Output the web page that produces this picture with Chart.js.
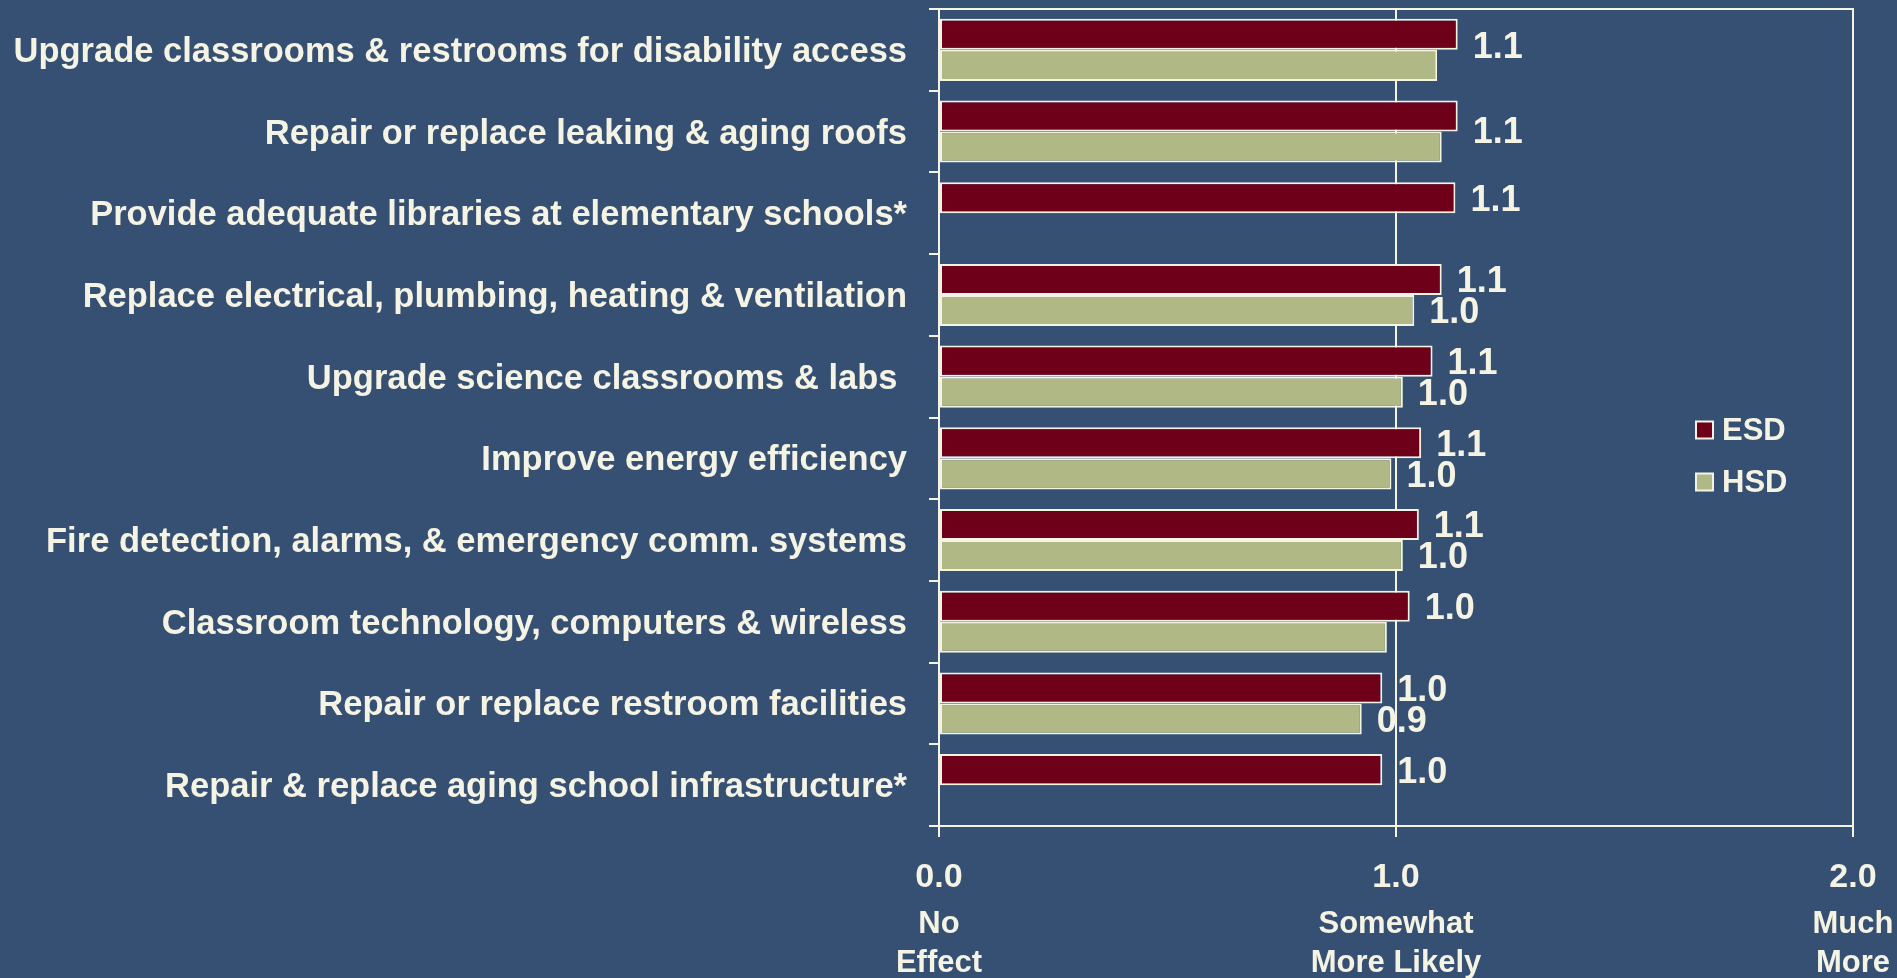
<!DOCTYPE html>
<html>
<head>
<meta charset="utf-8">
<title>Effect of projects on likelihood to vote yes: ESD vs HSD</title>
<script src="https://cdn.jsdelivr.net/npm/chart.js@4.4.1/dist/chart.umd.min.js"></script>
<style>
  html, body { margin: 0; padding: 0; background: #365074; }
  #wrap { position: relative; width: 1897px; height: 978px; }
</style>
</head>
<body>
<div id="wrap"><canvas id="chart"></canvas></div>
<script>
// Projects, listed top to bottom as on the slide.
const categories = [
  'Upgrade classrooms & restrooms for disability access',
  'Repair or replace leaking & aging roofs',
  'Provide adequate libraries at elementary schools*',
  'Replace electrical, plumbing, heating & ventilation',
  'Upgrade science classrooms & labs ',
  'Improve energy efficiency',
  'Fire detection, alarms, & emergency comm. systems',
  'Classroom technology, computers & wireless',
  'Repair or replace restroom facilities',
  'Repair & replace aging school infrastructure*'
];

const seriesNames = ['ESD', 'HSD'];

// Mean scores (null = not asked in that district).
const esdValues = [1.135, 1.135, 1.13, 1.10, 1.08, 1.055, 1.05, 1.03, 0.97, 0.97];
const hsdValues = [1.09, 1.10, null, 1.04, 1.015, 0.99, 1.015, 0.98, 0.925, null];

// Which bars carry a value label on the slide.
const esdLabelShown = [true, true, true, true, true, true, true, true, true, true];
const hsdLabelShown = [false, false, false, true, true, true, true, false, true, false];

const xTickLabels = ['0.0', '1.0', '2.0'];
const xDescriptors = [['No', 'Effect'], ['Somewhat', 'More Likely'], ['Much', 'More']];

const CREAM = '#F5F3E3';
const ESD_COLOR = '#6E001A';
const HSD_COLOR = '#B0B886';
const FONT = '"Liberation Sans", Arial, sans-serif';

// value labels just past the end of each bar
const barValueLabels = {
  id: 'barValueLabels',
  afterDatasetsDraw(chart) {
    const ctx = chart.ctx;
    ctx.save();
    ctx.font = 'bold 36px ' + FONT;
    ctx.fillStyle = CREAM;
    ctx.textAlign = 'left';
    ctx.textBaseline = 'middle';
    chart.data.datasets.forEach((ds, di) => {
      chart.getDatasetMeta(di).data.forEach((bar, i) => {
        const v = ds.data[i];
        if (v == null || !ds.labelShown[i]) return;
        const nudge = ds.labelNudge ? (ds.labelNudge[i] || 0) : 0;
        ctx.fillText(v.toFixed(1), bar.x + 15, bar.y + 3 + nudge);
      });
    });
    ctx.restore();
  }
};

// legend sits inside the plot, on the right
const sideLegend = {
  id: 'sideLegend',
  afterDraw(chart) {
    const { ctx, chartArea } = chart;
    const x = chartArea.right - 157;
    ctx.save();
    ctx.font = 'bold 31px ' + FONT;
    ctx.textAlign = 'left';
    ctx.textBaseline = 'middle';
    chart.data.datasets.forEach((ds, i) => {
      const cy = chartArea.top + 421 + i * 52;
      ctx.fillStyle = ds.backgroundColor;
      ctx.fillRect(x, cy - 8.5, 17, 17);
      ctx.strokeStyle = CREAM;
      ctx.lineWidth = 2;
      ctx.strokeRect(x, cy - 8.5, 17, 17);
      ctx.fillStyle = CREAM;
      ctx.fillText(ds.label, x + 26, cy + 1);
    });
    ctx.restore();
  }
};

// keep the plot frame where the slide has it: no label overhang padding
function noOverhang(scale) {
  scale.paddingTop = 0;
  scale.paddingBottom = 0;
  scale.paddingLeft = 0;
  scale.paddingRight = 0;
}

const ctx = document.getElementById('chart');

new Chart(ctx, {
  type: 'bar',
  data: {
    labels: categories,
    datasets: [
      {
        label: seriesNames[0],
        data: esdValues,
        backgroundColor: ESD_COLOR,
        labelShown: esdLabelShown,
        labelNudge: [11, 14]
      },
      {
        label: seriesNames[1],
        data: hsdValues,
        backgroundColor: HSD_COLOR,
        labelShown: hsdLabelShown
      }
    ]
  },
  options: {
    indexAxis: 'y',
    responsive: true,
    maintainAspectRatio: false,
    animation: false,
    events: [],
    layout: { padding: { top: 9, right: 44, bottom: 0, left: 0 } },
    datasets: {
      bar: {
        categoryPercentage: 0.76,
        barPercentage: 1.0,
        borderColor: CREAM,
        borderWidth: 2,
        borderSkipped: false
      }
    },
    plugins: {
      legend: { display: false },
      tooltip: { enabled: false }
    },
    scales: {
      y: {
        grid: {
          offset: true,
          drawOnChartArea: false,
          drawTicks: true,
          tickLength: 10,
          color: CREAM,
          lineWidth: 2
        },
        border: { display: true, color: CREAM, width: 2 },
        ticks: {
          color: CREAM,
          padding: 22,
          labelOffset: 2.5,
          font: { family: FONT, size: 34.5, weight: 'bold' }
        },
        afterFit(scale) { scale.width = 939; noOverhang(scale); }
      },
      x: {
        position: 'bottom',
        min: 0,
        max: 2,
        weight: 0,
        grid: {
          color: CREAM,
          lineWidth: 2,
          drawTicks: true,
          tickLength: 11
        },
        border: { display: true, color: CREAM, width: 2 },
        ticks: {
          stepSize: 1,
          color: CREAM,
          padding: 20,
          maxRotation: 0,
          autoSkip: false,
          font: { family: FONT, size: 34, weight: 'bold' },
          callback: (value, index) => xTickLabels[index]
        },
        afterFit(scale) { scale.height = 70; noOverhang(scale); }
      },
      x2: {
        axis: 'x',
        position: 'bottom',
        min: 0,
        max: 2,
        weight: 1,
        grid: { display: false, drawTicks: false },
        border: { display: false },
        ticks: {
          stepSize: 1,
          color: CREAM,
          padding: 9,
          maxRotation: 0,
          autoSkip: false,
          font: { family: FONT, size: 31, weight: 'bold', lineHeight: 1.26 },
          callback: (value, index) => xDescriptors[index]
        },
        afterFit(scale) { scale.height = 82; noOverhang(scale); }
      },
      xTop: {
        axis: 'x',
        position: 'top',
        min: 0,
        max: 2,
        grid: { display: false, drawTicks: false },
        border: { display: true, color: CREAM, width: 2 },
        ticks: { display: false },
        afterFit(scale) { scale.height = 0; noOverhang(scale); }
      }
    }
  },
  plugins: [barValueLabels, sideLegend]
});
</script>
</body>
</html>
